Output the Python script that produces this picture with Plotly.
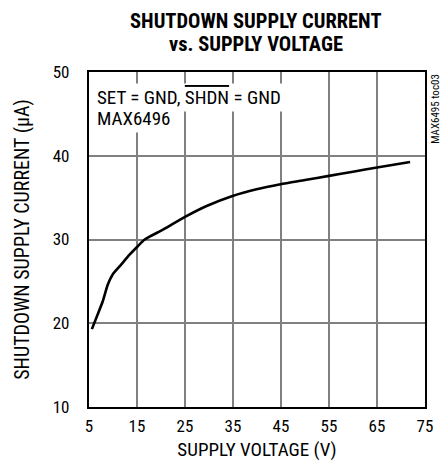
import plotly.graph_objects as go

supply_voltage = [5.6, 6.8, 7.85, 8.9, 9.9, 11.7, 13.4, 14.9, 16.6, 20.5, 25.0, 29.5, 34.9, 39.9, 44.9, 50.0, 55.0, 60.0, 65.0, 71.9]
shutdown_current = [19.3, 21.05, 22.6, 24.6, 25.8, 27.0, 28.15, 29.05, 30.0, 31.2, 32.7, 34.0, 35.2, 36.0, 36.6, 37.1, 37.6, 38.1, 38.6, 39.25]

x_ticks = [5, 15, 25, 35, 45, 55, 65, 75]
y_ticks = [10, 20, 30, 40, 50]

FONT = "Roboto Condensed, Liberation Sans Narrow, Arial Narrow, sans-serif"

fig = go.Figure()
fig.add_trace(go.Scatter(
    x=supply_voltage, y=shutdown_current, mode="lines",
    line=dict(color="black", width=2.6, shape="spline", smoothing=0.6),
    showlegend=False, hoverinfo="skip"))

fig.update_layout(
    width=440, height=463,
    margin=dict(l=81, r=23, t=64, b=64),
    paper_bgcolor="white", plot_bgcolor="white",
    font=dict(family=FONT, size=16, color="black"),
    xaxis=dict(range=[5, 75], tickvals=x_ticks, ticks="", showgrid=True,
               gridcolor="#808080", gridwidth=1.6, zeroline=False,
               showline=True, linecolor="black", linewidth=2.2, mirror=True,
               automargin=False, ticklabelstandoff=2,
               title=dict(text="SUPPLY VOLTAGE (V)", standoff=8,
                          font=dict(family=FONT, size=19)),
               tickfont=dict(family=FONT, size=17)),
    yaxis=dict(range=[10, 50], tickvals=y_ticks, ticks="", showgrid=True,
               gridcolor="#808080", gridwidth=1.6, zeroline=False,
               showline=True, linecolor="black", linewidth=2.2, mirror=True,
               automargin=False, ticklabelstandoff=14,
               title=dict(text="SHUTDOWN SUPPLY CURRENT (\u00b5A)", standoff=18,
                          font=dict(family=FONT, size=20)),
               tickfont=dict(family=FONT, size=17)),
)

# title (two lines)
fig.add_annotation(xref="paper", yref="paper", x=0.497, y=1.152, xanchor="center", yanchor="middle",
                   text="<b>SHUTDOWN SUPPLY CURRENT</b>", showarrow=False, borderpad=0,
                   font=dict(family=FONT, size=20.5, color="black"))
fig.add_annotation(xref="paper", yref="paper", x=0.497, y=1.0836, xanchor="center", yanchor="middle",
                   text="<b>vs. SUPPLY VOLTAGE</b>", showarrow=False, borderpad=0,
                   font=dict(family=FONT, size=20.5, color="black"))

# condition labels
fig.add_annotation(
    xref="paper", yref="paper", x=0.015, y=0.925, xanchor="left", yanchor="middle",
    text="SET = GND, <span style='text-decoration:overline'>SHDN</span> = GND",
    showarrow=False, align="left", bgcolor="white", borderpad=2,
    font=dict(family=FONT, size=19, color="black"))
fig.add_annotation(
    xref="paper", yref="paper", x=0.015, y=0.860, xanchor="left", yanchor="middle",
    text="MAX6496", showarrow=False, align="left", bgcolor="white", borderpad=2,
    font=dict(family=FONT, size=19, color="black"))

fig.add_annotation(
    xref="paper", yref="paper", x=1.004, y=1.0, xanchor="left", yanchor="top",
    text="MAX6495 toc03", textangle=-90, showarrow=False,
    font=dict(family=FONT, size=11, color="black"))

fig.write_html("out.html")
